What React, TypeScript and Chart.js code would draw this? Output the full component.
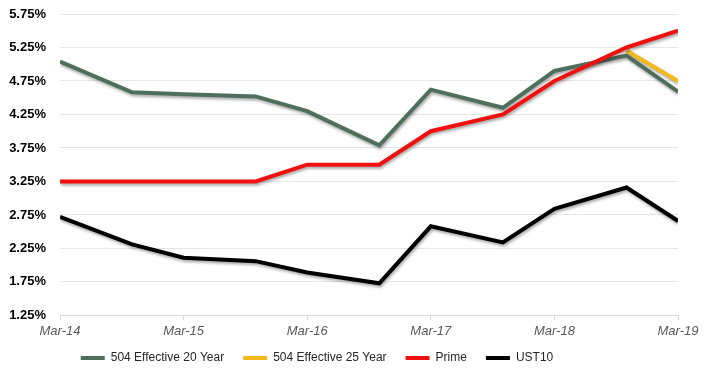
import React, { useEffect, useRef } from "react";
import { Chart, registerables } from "chart.js";

Chart.register(...registerables);

// Observation dates (year-month) and the axis tick labels
const periods = ["2014-03", "2014-10", "2015-03", "2015-10", "2016-03", "2016-10", "2017-03", "2017-10", "2018-03", "2018-10", "2019-03"];
const tickLabels = ["Mar-14", "Mar-15", "Mar-16", "Mar-17", "Mar-18", "Mar-19"];

const eff20 = [5.04, 4.58, 4.55, 4.52, 4.3, 3.79, 4.62, 4.35, 4.9, 5.13, 4.59];
const eff25 = [null, null, null, null, null, null, null, null, null, 5.2, 4.75];
const prime = [3.25, 3.25, 3.25, 3.25, 3.5, 3.5, 4.0, 4.25, 4.75, 5.25, 5.5];
const ust10 = [2.72, 2.31, 2.11, 2.06, 1.89, 1.73, 2.58, 2.34, 2.84, 3.16, 2.66];

const monthIndex = (p: string) => {
  const [y, m] = p.split("-").map(Number);
  return (y - 2014) * 12 + (m - 3);
};

const toPoints = (vals: (number | null)[]) => vals.map((v, i) => ({ x: monthIndex(periods[i]), y: v }));

const shadowPlugin = {
  id: "lineShadow",
  beforeDatasetDraw(chart: any) {
    const ctx = chart.ctx;
    ctx.save();
    ctx.shadowColor = "rgba(0,0,0,0.35)";
    ctx.shadowBlur = 3;
    ctx.shadowOffsetX = 1;
    ctx.shadowOffsetY = 2;
  },
  afterDatasetDraw(chart: any) {
    chart.ctx.restore();
  },
};

const legendShiftPlugin = {
  id: "legendShift",
  afterLayout(chart: any) {
    if (chart.legend) {
      chart.legend.left -= 26;
      chart.legend.right -= 26;
    }
  },
};

export default function App() {
  const ref = useRef<HTMLCanvasElement>(null);
  useEffect(() => {
    document.body.style.margin = "0";
    const mk = (label: string, data: (number | null)[], color: string, order: number) => ({
      label,
      data: toPoints(data),
      borderColor: color,
      backgroundColor: color,
      borderWidth: 4,
      pointRadius: 0,
      tension: 0,
      spanGaps: false,
      order,
    });
    const chart = new Chart(ref.current!, {
      type: "line",
      data: {
        datasets: [
          mk("504 Effective 20 Year", eff20, "#4E6E5E", 1),
          mk("504 Effective 25 Year", eff25, "#F4BA1C", 2),
          mk("Prime", prime, "#F01010", 0),
          mk("UST10", ust10, "#000000", 3),
        ],
      },
      options: {
        animation: false,
        responsive: false,
        layout: { padding: { left: 8, right: 30, top: 14, bottom: 3 } },
        plugins: {
          tooltip: { enabled: false },
          legend: {
            position: "bottom",
            labels: {
              boxWidth: 24,
              boxHeight: 4,
              padding: 19,
              color: "#262626",
              font: { family: "Arial, 'Liberation Sans', sans-serif", size: 12 },
              sort: (a: any, b: any) => a.datasetIndex - b.datasetIndex,
              generateLabels(chart: any) {
                const items = Chart.defaults.plugins.legend.labels.generateLabels(chart);
                return items.map((it: any) => ({ ...it, lineWidth: 0, fillStyle: it.strokeStyle }));
              },
            },
          },
        },
        scales: {
          x: {
            type: "linear",
            min: 0,
            max: 60,
            afterFit: (scale: any) => {
              scale.height = scale.height - 9;
              scale._computeLabelArea = () => undefined;
            },
            ticks: {
              stepSize: 12,
              color: "#595959",
              padding: 3,
              font: { family: "Arial, 'Liberation Sans', sans-serif", size: 13, style: "italic" },
              callback: (v: any) => tickLabels[Math.round(Number(v) / 12)] ?? "",
              maxRotation: 0,
            },
            grid: { drawOnChartArea: false, drawTicks: true, tickLength: 5, color: "#D9D9D9" },
            border: { color: "#D9D9D9" },
          },
          y: {
            min: 1.25,
            max: 5.75,
            afterFit: (scale: any) => {
              scale.width = 52;
              scale.paddingTop = 0;
              scale.paddingBottom = 0;
            },
            ticks: {
              stepSize: 0.5,
              color: "#000000",
              padding: 14,
              font: { family: "Arial, 'Liberation Sans', sans-serif", size: 13, weight: "bold" },
              callback: (v: any) => Number(v).toFixed(2) + "%",
            },
            grid: { color: "#E6E6E6", drawTicks: false },
            border: { display: false },
          },
        },
      },
      plugins: [shadowPlugin, legendShiftPlugin],
    } as any);
    return () => chart.destroy();
  }, []);
  return <canvas ref={ref} width={708} height={377} style={{ display: "block" }} />;
}
